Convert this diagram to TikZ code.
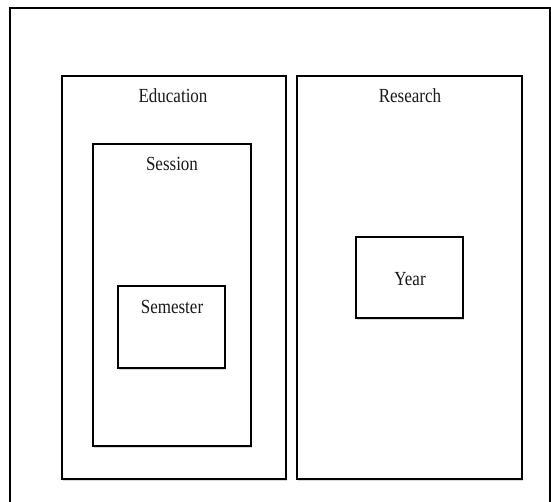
\documentclass[tikz,border=0pt]{standalone}
\usepackage{fontspec}
\newfontfamily\labfont[FakeStretch=0.85]{Liberation Serif}
\usetikzlibrary{shadows}
\tikzset{
  box/.style={draw=black, line width=1.6pt, fill=white, rectangle, inner sep=0pt,
    drop shadow={shadow xshift=0.5pt, shadow yshift=-2pt, opacity=0.15, fill=black}},
  lab/.style={font=\labfont\fontsize{20}{24}\selectfont, text=black!90, inner sep=0pt}
}
\begin{document}
\begin{tikzpicture}[x=1pt,y=1pt]
\useasboundingbox (0,0) rectangle (551,502);
\fill[white] (0,0) rectangle (551,502);
\begin{scope}
\clip (0,0) rectangle (551,502);
\node[box, minimum width=540pt, minimum height=504pt] (outer) at (280,242) {};
\end{scope}
\node[box, minimum width=224pt, minimum height=403pt] (edu) at (174,224.5) {};
\node[box, minimum width=225pt, minimum height=403pt] (res) at (409.5,224.5) {};
\node[box, minimum width=158pt, minimum height=302pt] (ses) at (172,207) {};
\node[box, minimum width=107pt, minimum height=82pt] (sem) at (171.5,175) {};
\node[box, minimum width=107pt, minimum height=81pt] (year) at (409.5,224.5) {};
\node[lab] (edut) at (173,406) {Education};
\node[lab] (rest) at (410,406) {Research};
\node[lab] (sest) at (172,338) {Session};
\node[lab] (semt) at (172,195) {Semester};
\node[lab] (yeart) at (410,223) {Year};
\end{tikzpicture}
\end{document}
